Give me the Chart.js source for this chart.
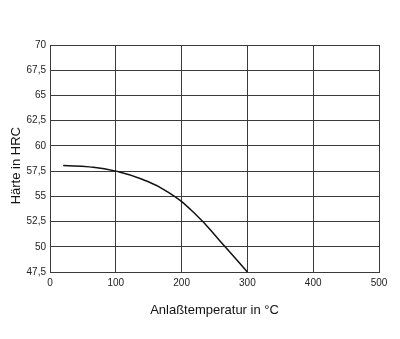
<!DOCTYPE html>
<html>
<head>
<meta charset="utf-8">
<script src="https://cdn.jsdelivr.net/npm/chart.js@4"></script>
<style>
  html, body { margin: 0; padding: 0; background: #fff; }
  #wrap { width: 400px; height: 339px; position: relative; }
</style>
</head>
<body>
<div id="wrap"><canvas id="chart"></canvas></div>
<script>
// Anlasskurve: Haerte ueber Anlasstemperatur
const temps = [20, 60, 100, 140, 180, 220, 260, 300];
const hardness = [58.05, 57.92, 57.5, 56.7, 55.4, 53.3, 50.45, 47.5];
const xTicks = [0, 100, 200, 300, 400, 500];
const yTicks = [47.5, 50, 52.5, 55, 57.5, 60, 62.5, 65, 67.5, 70];

const gridColor = '#3a3a3a';
const tickFont = {family: '"Liberation Sans", Arial, sans-serif', size: 10};
const titleFont = {family: '"Liberation Sans", Arial, sans-serif', size: 13};

new Chart(document.getElementById('chart'), {
  type: 'line',
  data: {
    datasets: [{
      data: temps.map((t, i) => ({x: t, y: hardness[i]})),
      borderColor: '#111',
      borderWidth: 1.5,
      pointRadius: 0,
      tension: 0.5,
      fill: false
    }]
  },
  options: {
    responsive: true,
    maintainAspectRatio: false,
    animation: false,
    layout: {padding: {top: 45, right: 21, left: 0, bottom: 0}},
    plugins: {legend: {display: false}, tooltip: {enabled: false}},
    scales: {
      x: {
        type: 'linear',
        min: xTicks[0], max: xTicks[xTicks.length - 1],
        afterBuildTicks: s => { s.ticks = xTicks.map(v => ({value: v})); },
        afterFit: s => { s.height = 67; },
        grid: {color: gridColor, lineWidth: 1, drawTicks: false},
        border: {color: gridColor, width: 1},
        ticks: {color: '#222', font: tickFont, padding: 5, maxRotation: 0},
        title: {display: true, text: 'Anlaßtemperatur in °C', color: '#111', font: titleFont, padding: {top: 0, bottom: 21}}
      },
      y: {
        min: yTicks[0], max: yTicks[yTicks.length - 1],
        afterBuildTicks: s => { s.ticks = yTicks.map(v => ({value: v})); },
        afterFit: s => { s.width = 50; },
        grid: {color: gridColor, lineWidth: 1, drawTicks: false},
        border: {color: gridColor, width: 1},
        ticks: {
          color: '#222', font: tickFont, padding: 4,
          callback: v => String(v).replace('.', ',')
        },
        // trailing nbsp pushes the title a bit lower, like in the original
        title: {display: true, text: 'Härte in HRC\u00a0\u00a0\u00a0\u00a0', color: '#111', font: titleFont, padding: {top: 9, bottom: 0}}
      }
    }
  }
});
</script>
</body>
</html>
